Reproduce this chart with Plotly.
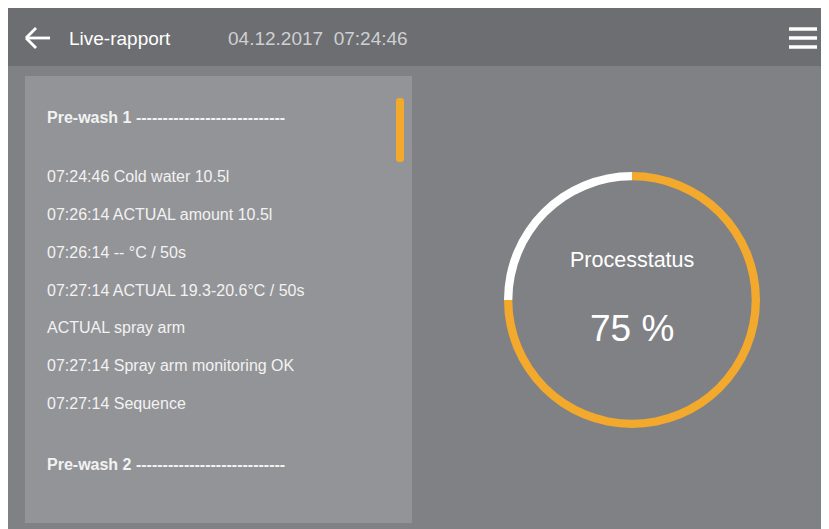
import plotly.graph_objects as go

# The page body adds an 8px margin; the figure fills the rest of the window.
OFF = 8
W, H = 829 - OFF, 529 - OFF

# ---- data ----
status_labels = ["Done", "Remaining"]
status_values = [75, 25]
status_colors = ["#f2a92c", "#ffffff"]
status_title = "Processtatus"
status_text = "75 %"

header_title = "Live-rapport"
header_date = "04.12.2017  07:24:46"

log_lines = [
    ("Pre-wash 1 " + "-" * 28, True),
    ("07:24:46 Cold water 10.5l", False),
    ("07:26:14 ACTUAL amount 10.5l", False),
    ("07:26:14 -- °C / 50s", False),
    ("07:27:14 ACTUAL 19.3-20.6°C / 50s", False),
    ("ACTUAL spray arm", False),
    ("07:27:14 Spray arm monitoring OK", False),
    ("07:27:14 Sequence", False),
    ("Pre-wash 2 " + "-" * 28, True),
]
log_y = [117, 176, 214, 252, 290, 327, 365, 403, 464]

# ---- helpers (window pixel -> paper) ----
def px(x):
    return (x - OFF) / W

def py(y):
    return 1 - (y - OFF) / H

def rect(x0, y0, x1, y1, color):
    return dict(type="rect", xref="paper", yref="paper",
                x0=px(x0), x1=px(x1), y0=py(y1), y1=py(y0),
                fillcolor=color, line=dict(width=0), layer="below")

def seg(x0, y0, x1, y1, color, w):
    return dict(type="line", xref="paper", yref="paper",
                x0=px(x0), x1=px(x1), y0=py(y0), y1=py(y1),
                line=dict(color=color, width=w))

FONT = "Liberation Sans, Arial, sans-serif"

cx, cy, r = 632, 300, 128

fig = go.Figure()
fig.add_trace(go.Pie(
    labels=status_labels, values=status_values,
    marker=dict(colors=status_colors, line=dict(width=0)),
    hole=0.935, sort=False, direction="clockwise", rotation=0,
    textinfo="none", hoverinfo="label+percent", showlegend=False,
    domain=dict(x=[px(cx - r), px(cx + r)], y=[py(cy + r), py(cy - r)]),
))

shapes = [
    rect(8, 7, 829, 66, "#6d6e72"),
    rect(8, 66, 829, 529, "#808185"),
    rect(25, 76, 412, 523, "#939497"),
]
# scrollbar (rounded)
sx0, sx1, sy0, sy1 = 396, 404, 98, 162
rr = 3
path = (f"M {px(sx0)},{py(sy0 + rr)} Q {px(sx0)},{py(sy0)} {px(sx0 + rr)},{py(sy0)} "
        f"L {px(sx1 - rr)},{py(sy0)} Q {px(sx1)},{py(sy0)} {px(sx1)},{py(sy0 + rr)} "
        f"L {px(sx1)},{py(sy1 - rr)} Q {px(sx1)},{py(sy1)} {px(sx1 - rr)},{py(sy1)} "
        f"L {px(sx0 + rr)},{py(sy1)} Q {px(sx0)},{py(sy1)} {px(sx0)},{py(sy1 - rr)} Z")
shapes.append(dict(type="path", xref="paper", yref="paper", path=path,
                   fillcolor="#f2a92c", line=dict(width=0)))
# back arrow
shapes += [
    seg(26, 38, 50, 38, "white", 2.8),
    seg(26, 38, 36, 28, "white", 2.8),
    seg(26, 38, 36, 48, "white", 2.8),
]
# hamburger
for yy in (29, 38, 47):
    shapes.append(seg(789, yy, 817, yy, "white", 3.5))

ann = [
    dict(text=header_title, x=px(67), y=py(39), xref="paper", yref="paper",
         xanchor="left", yanchor="middle", showarrow=False,
         font=dict(family=FONT, size=19, color="#ffffff")),
    dict(text=header_date, x=px(226), y=py(39), xref="paper", yref="paper",
         xanchor="left", yanchor="middle", showarrow=False,
         font=dict(family=FONT, size=19, color="#cfd0d2")),
    dict(text=status_title, x=px(cx), y=py(260), xref="paper", yref="paper",
         xanchor="center", yanchor="middle", showarrow=False,
         font=dict(family=FONT, size=21.5, color="#ffffff")),
    dict(text=status_text, x=px(cx), y=py(328), xref="paper", yref="paper",
         xanchor="center", yanchor="middle", showarrow=False,
         font=dict(family=FONT, size=37, color="#ffffff")),
]
for (txt, bold), yy in zip(log_lines, log_y):
    ann.append(dict(text=f"<b>{txt}</b>" if bold else txt,
                    x=px(45), y=py(yy), xref="paper", yref="paper",
                    xanchor="left", yanchor="middle", showarrow=False,
                    font=dict(family=FONT, size=16, color="#f2f2f2")))

fig.update_layout(
    width=W, height=H, margin=dict(l=0, r=0, t=0, b=0),
    paper_bgcolor="#ffffff", plot_bgcolor="#ffffff",
    shapes=shapes, annotations=ann, showlegend=False,
)
fig.write_html("out.html", config={"displayModeBar": False})
